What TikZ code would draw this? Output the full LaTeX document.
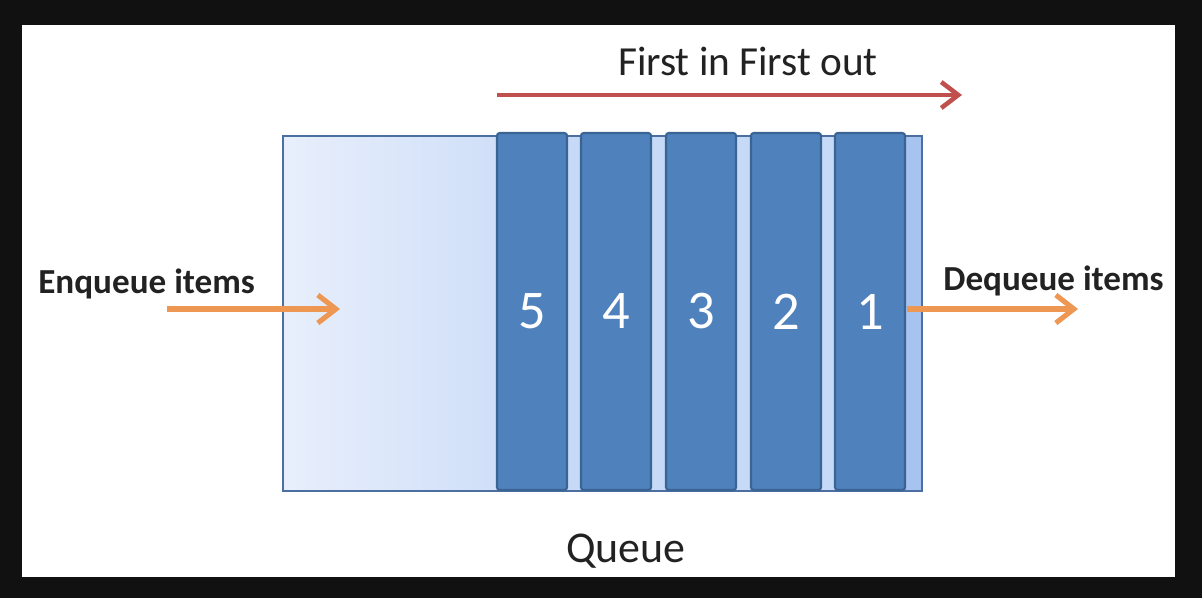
\documentclass[tikz,border=0pt]{standalone}
\usepackage{fontspec}
\setmainfont{Carlito}
\usetikzlibrary{arrows.meta}

\definecolor{pageblack}{HTML}{111111}
\definecolor{boxlight}{HTML}{E8EFFC}
\definecolor{boxmid}{HTML}{D0DFF8}
\definecolor{gapblue}{HTML}{C6DAF8}
\definecolor{stripblue}{HTML}{A7C4F1}
\definecolor{boxedge}{HTML}{4A6FA0}
\definecolor{barfill}{HTML}{4F81BD}
\definecolor{baredge}{HTML}{3A6494}
\definecolor{fifored}{HTML}{C0504D}
\definecolor{itemorange}{HTML}{EE9752}
\definecolor{labelgray}{HTML}{222222}

\tikzset{
	bar/.style={draw=baredge, line width=1.2pt, fill=barfill, rounded corners=1.5pt,
		minimum width=1.4cm, minimum height=7.14cm, inner sep=0pt,
		text=white, font=\fontsize{31}{34}\selectfont},
	itemlabel/.style={anchor=base west, inner sep=0pt, text=labelgray,
		font=\bfseries\fontsize{20}{24}\selectfont},
	itemarrow/.style={itemorange, line width=2.9pt,
		-{Straight Barb[length=0.36cm, width=0.56cm]}},
}

\begin{document}
\begin{tikzpicture}[x=0.02cm, y=-0.02cm]
	\useasboundingbox (0,0) rectangle (1202,598);
	\fill[pageblack] (0,0) rectangle (1202,598);
	\fill[white] (22,25) rectangle (1175,577);
	
	% the queue box
	\shade[left color=boxlight, right color=boxmid] (283,136) rectangle (497,491);
	\fill[gapblue] (497,136) rectangle (905,491);
	\fill[stripblue] (905,136) rectangle (922,491);
	\draw[boxedge, line width=0.9pt] (283,136) rectangle (922,491);
	
	\foreach \n/\x in {5/497,4/581,3/666,2/751,1/835}{
		\node[bar] (bar\n) at (\x + 35, 311.5) {\n};
	}
	
	% first in first out
	\node[anchor=base, inner sep=0pt, text=labelgray, font=\fontsize{23.5}{27}\selectfont]
		(fifo) at (748,75) {First in First out};
	\coordinate (fifostart) at (497,95);
	\coordinate (fifoend) at (962,95);
	\draw[fifored, line width=2.6pt, -{Straight Barb[length=0.34cm, width=0.52cm]}]
		(fifostart) -- (fifoend);
	
	% enqueue
	\node[itemlabel] (enq) at (38,293) {Enqueue items};
	\coordinate (enqstart) at (167,309);
	\coordinate (enqend) at (340,309);
	\draw[itemarrow] (enqstart) -- (enqend);
	
	% dequeue
	\node[itemlabel] (deq) at (943,290) {Dequeue items};
	\coordinate (deqstart) at (907,309);
	\coordinate (deqend) at (1078,309);
	\draw[itemarrow] (deqstart) -- (deqend);
	
	\node[anchor=base, inner sep=0pt, text=labelgray, font=\fontsize{25}{30}\selectfont]
		(queue) at (626,562) {Queue};
\end{tikzpicture}
\end{document}
